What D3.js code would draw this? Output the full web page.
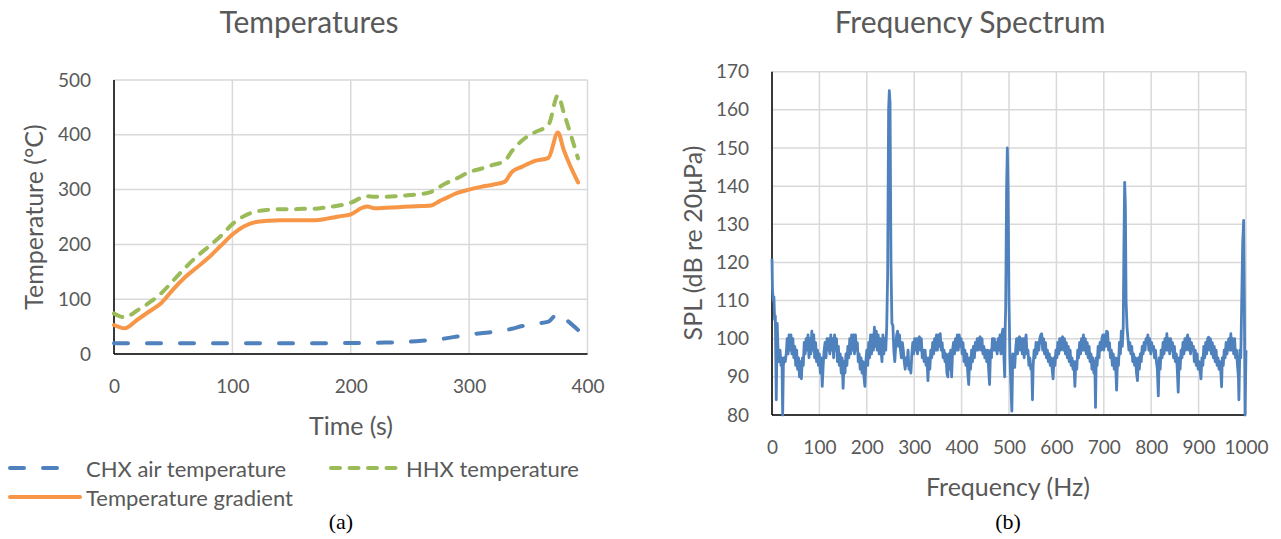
<!DOCTYPE html>
<html>
<head>
<meta charset="utf-8">
<script src="https://cdn.jsdelivr.net/npm/d3@7"></script>
<style>
  body { margin: 0; background: #fff; }
  svg { display: block; }
</style>
</head>
<body>
<div id="chart"></div>
<script>
// ---- left panel: temperatures during the run ----
const timeS = [0, 9, 20, 30, 40, 50, 60, 70, 80, 90, 100, 110, 120, 130, 140, 150, 160, 170, 180, 190, 200,
  210, 214, 220, 230, 240, 250, 260, 268, 275, 280, 290, 300, 310, 320, 330, 336, 345, 355, 367, 375, 380, 392];
const chxAir = [19.5, 19.5, 19.5, 19.5, 19.5, 19.5, 19.5, 19.5, 19.5, 19.5, 19.5, 19.5, 19.5, 19.5, 19.5, 19.5, 19.5, 19.5, 19.8, 20, 20,
  20.3, 20.5, 20.6, 21, 21.5, 22.5, 24, 25.5, 27, 28.5, 32, 35.5, 38, 40, 43, 46, 51, 55, 59, 74, 66, 44];
const hhxTemp = [74, 67, 80, 94, 111, 134, 157, 178, 196, 215, 237, 252, 260, 263, 264, 264, 265, 265, 268, 271, 276,
  286, 288, 287, 287, 288, 290, 292, 296, 305, 311, 321, 332, 338, 345, 352, 370, 390, 404, 418, 472, 440, 357];
const tempGradient = [53, 47, 63, 78, 93, 118, 140, 158, 176, 197, 218, 233, 241, 243, 244, 244, 244, 244, 247, 251, 255,
  267, 269, 266, 267, 268, 269, 270, 271, 279, 284, 294, 300, 305, 309, 314, 332, 342, 352, 358, 404, 372, 313];

const timeTicks = [0, 100, 200, 300, 400];
const tempTicks = [0, 100, 200, 300, 400, 500];

// ---- right panel: spectrum [Hz, dB re 20uPa] ----
const spectrum = [
  [0,121],[1,113],[2.5,110],[4,111],[5.5,105],[7,106],[9,84],[11,104],[13,96],[15,94],[17,97],[19,93],[21,95],[22.5,80],[24,93],[26,95],[28,94],[30,96],
  [32,100],[34,96],[36,101],[38,97],[40,101],[42,96],[44,100],[46,95],[48,98],[50,93],[52,97],[54,92],[56,95],[58,90],[60,94],[62,89.5],[64,95],[66,93],[68,99],[70,96],
  [72,100],[74,97],[76,101],[78,95],[80,100],[82,96],[84,102],[86,97],[88,101],[90,95],[92,99],[94,94],[96,97],[98,93],[100,96],[102,91],[104,95],[106,87.5],[108,93],[110,97],
  [112,99],[114,95],[116,100],[118,97],[120,100],[122,96],[124,101],[126,97],[128,100],[130,95],[132,101],[134,97],[136,100],[138,94],[140,98],[142,93],[144,96],[146,91],[148,95],[150,87],
  [152,94],[154,91],[156,96],[158,93],[160,98],[162,95],[164,100],[166,96],[168,101],[170,97],[172,101],[174,96],[176,101],[178,97],[180,99],[182,94],[184,96],[186,92],[188,95],[190,91],
  [192,94],[194,90],[196,87.5],[198,94],[200,97],[202,93],[204,99],[206,95],[208,101],[210,96],[212,101],[214,97],[216,103],[218,98],[220,102],[222,97],[224,101],[226,96],[228,100],[230,97],
  [232,94],[234,101],[236,96],[238,100],[240,97],[242,103],[244,117],[246,160],[247.5,165],[249,162],[251,120],[253,104],[255,103.5],[257,97],[259,94],[261,98],[263,101],[265,102],[267,98],[269,101],
  [271,97],[273,95],[275,99],[277,97],[279,94],[281,92],[283,95],[285,93],[287,97],[289,92],[291,93],[293,91],[295,96],[297,99],[299,96],[301,100],[303,97],[305,100],[307,96],[309,100],
  [311,100.5],[313,97],[315,100],[317,95],[319,97],[321,94],[323,97],[325,93],[327,95],[329,89],[331,95],[333,92],[335,97],[337,95],[339,99],[341,96],[343,100],[345,97],[347,101],[349,97],
  [351,101],[353,98],[355,101.3],[357,97],[359,99],[361,95],[363,97],[365,94],[367,96],[369,91],[371,90],[373,96],[375,92],[377,97],[379,90],[381,97],[383,99],[385,96],[387,100],[389,97],
  [391,101],[393,97],[395,101],[397,98],[399,100],[401,96],[403,99],[405,94],[407,97],[409,93],[411,96],[413,91],[415,88],[417,95],[419,92],[421,97],[423,94],[425,98],[427,95],[429,99],
  [431,97],[433,100],[435,97],[437,100],[439,100.5],[441,97],[443,100],[445,96],[447,98],[449,95],[451,97],[453,94],[455,97],[457,92],[459,88],[461,97],[463,95],[465,100],[467,97],[469,100],
  [471,97],[473,99],[475,96],[477,100],[479,97],[481,101],[483,96],[485,101],[487,102.5],[489,96],[491,90],[492,103],[493,108],[495,140],[496.5,150],[498,140],[500,110],[502,95],[504,88],[506,81],
  [508,96],[510,94],[512,92.5],[514,97],[516,100],[518,96],[520,100],[522,100.5],[524,97],[526,100],[528,96],[530,100],[532,95],[534,99],[536,101],[538,96],[540,97],[542,93],[544,95],[546,92],
  [548,93],[549.5,84],[551,93],[553,97],[555,95],[557,99],[559,96],[561,99],[563,97],[565,100],[567,101],[569,101.3],[571,97],[573,100],[575,96],[577,99],[579,95],[581,97],[583,94],[585,96],
  [587,93],[589,95],[591,92],[593,89.5],[595,95],[597,93],[599,97],[601,95],[603,99],[605,96],[607,100],[609,97],[611,100],[613,100.5],[615,97],[617,100],[619,96],[621,99],[623,95],[625,98],
  [627,94],[629,97],[631,93],[633,95],[635,92],[637,94],[639,87.5],[641,94],[643,92],[645,97],[647,95],[649,99],[651,96],[653,100],[655,97],[657,101],[659,97],[661,100],[663,96],[665,99],
  [667,95],[669,98],[671,94],[673,96],[675,92],[677,95],[679,91],[681,94],[682.5,82],[684,95],[686,93],[688,98],[690,95],[692,99],[694,97],[696,100],[698,101],[700,97],[702,101],[704,98],
  [706,102],[708,101.7],[710,97],[712,99],[714,95],[716,97],[718,93],[720,96],[722,92],[724,95],[726,90],[727,86.5],[729,95],[731,93],[733,99],[735,96],[737,102],[739,98],[741,103],[742.5,125],
  [744,141],[745.5,135],[747,110],[749,103],[751,100],[753,97],[755,99],[757,96],[759,98],[761,94],[763,96],[765,93],[767,95],[769,91],[771,89],[773,95],[775,92],[777,96],[779,94],[781,98],
  [783,96],[785,99],[787,97],[789,100],[791,99.5],[793,101],[795,97],[797,100],[799,96],[801,99],[803,97],[805,98],[807,95],[809,97],[811,94],[813,92],[815,85],[817,95],[819,92],[821,97],
  [823,95],[825,99],[827,96],[829,100],[831,97],[833,101.3],[835,97],[837,100],[839,96],[841,100],[843,97],[845,99],[847,95],[849,98],[851,94],[853,96],[855,92],[857,86],[859,95],[861,92],
  [863,97],[865,95],[867,99],[869,96],[871,100],[873,97],[875,100],[877,101],[879,97],[881,100],[883,96],[885,99],[887,97],[889,98],[891,94],[893,97],[895,93],[897,96],[899,92],[901,94],
  [903,92],[905,89.5],[907,95],[909,93],[911,98],[913,95],[915,99],[917,96],[919,100],[921,100.4],[923,97],[925,100],[927,96],[929,99],[931,95],[933,98],[935,94],[937,97],[939,93],[941,95],
  [943,92],[945,94],[947,91],[948.5,87.4],[950,95],[952,93],[954,97],[956,95],[958,99],[960,96],[962,99],[964,100],[966,97],[968,101.3],[970,97],[972,100],[974,96],[976,100],[978,95],[980,97],
  [982,93],[984,90],[985,84],[987,97],[989,95],[991,110],[993,125],[995,131],[996.5,110],[998,80],[1000,97]
];

const freqTicks = [0, 100, 200, 300, 400, 500, 600, 700, 800, 900, 1000];
const splTicks = [80, 90, 100, 110, 120, 130, 140, 150, 160, 170];

// ---- look ----
const W = 1281, H = 539;
const font = "Lato, 'Open Sans', sans-serif";
const serif = "'Liberation Serif', 'Times New Roman', serif";
const textColor = "#595959";
const gridColor = "#d9d9d9";
const blue = "#4f81bd", orange = "#f79646", green = "#9bbb59";

const svg = d3.select("#chart").append("svg").attr("width", W).attr("height", H);

// grid, tick labels and the two black axis lines of one panel
const drawFrame = (x, y, xTicks, yTicks) => {
  const [x0, x1] = x.range();
  const [y0, y1] = y.range();
  const g = svg.append("g");

  g.append("g").selectAll("line").data(yTicks).join("line")
    .attr("x1", x0).attr("x2", x1)
    .attr("y1", d => y(d)).attr("y2", d => y(d))
    .attr("stroke", gridColor).attr("stroke-width", 1.5);
  g.append("g").selectAll("line").data(xTicks).join("line")
    .attr("x1", d => x(d)).attr("x2", d => x(d))
    .attr("y1", y0).attr("y2", y1)
    .attr("stroke", gridColor).attr("stroke-width", 1.5);

  g.append("g")
    .attr("transform", `translate(${x0},0)`)
    .call(d3.axisLeft(y).tickValues(yTicks).tickSize(0).tickPadding(23).tickFormat(d3.format("d")))
    .call(a => a.select(".domain").remove())
    .selectAll("text")
    .attr("font-family", font).attr("font-size", 19).attr("fill", textColor);

  g.append("g")
    .attr("transform", `translate(0,${y0})`)
    .call(d3.axisBottom(x).tickValues(xTicks).tickSize(0).tickFormat(d3.format("d")))
    .call(a => a.select(".domain").remove())
    .selectAll("text")
    .attr("y", 32).attr("dy", "0.35em")
    .attr("font-family", font).attr("font-size", 19).attr("fill", textColor);

  g.append("line").attr("x1", x0).attr("x2", x0).attr("y1", y0).attr("y2", y1)
    .attr("stroke", "#000").attr("stroke-width", 1.5);
  g.append("line").attr("x1", x0).attr("x2", x1).attr("y1", y0).attr("y2", y0)
    .attr("stroke", "#000").attr("stroke-width", 1.5);
};

const addText = (txt, x, y, size, opts = {}) => {
  const t = svg.append("text")
    .attr("x", x).attr("y", y)
    .attr("text-anchor", "middle")
    .attr("dominant-baseline", "central")
    .attr("font-family", opts.family || font)
    .attr("font-size", size)
    .attr("fill", opts.color || textColor)
    .text(txt);
  if (opts.rotate) t.attr("transform", `rotate(-90,${x},${y})`);
  return t;
};

// ---- left panel ----
const xT = d3.scaleLinear().domain([0, 400]).range([114, 587.5]);
const yT = d3.scaleLinear().domain([0, 500]).range([354, 80]);
drawFrame(xT, yT, timeTicks, tempTicks);

const tempLine = vals => d3.line()
  .x((d, i) => xT(timeS[i]))
  .y(d => yT(d))
  .curve(d3.curveMonotoneX)(vals);

const tempSeries = [
  { name: "CHX air temperature", vals: chxAir, color: blue, dash: "14,19" },
  { name: "HHX temperature", vals: hhxTemp, color: green, dash: "9,9.5" },
  { name: "Temperature gradient", vals: tempGradient, color: orange, dash: null }
];

svg.append("g").selectAll("path").data(tempSeries).join("path")
  .attr("d", d => tempLine(d.vals))
  .attr("fill", "none")
  .attr("stroke", d => d.color)
  .attr("stroke-width", 4)
  .attr("stroke-linecap", "round")
  .attr("stroke-linejoin", "round")
  .attr("stroke-dasharray", d => d.dash);

addText("Temperatures", 309, 21, 30);
addText("Temperature (°C)", 33, 217, 25, { rotate: true });
addText("Time (s)", 351, 425, 25);

// legend, laid out like the excel one
const legendPos = [
  { x1: 10, x2: 62, tx: 86, y: 468 },
  { x1: 331, x2: 402, tx: 406, y: 468 },
  { x1: 10, x2: 80, tx: 86, y: 497 }
];
const legend = svg.append("g").selectAll("g").data(tempSeries).join("g");
legend.append("line")
  .attr("x1", (d, i) => legendPos[i].x1).attr("x2", (d, i) => legendPos[i].x2)
  .attr("y1", (d, i) => legendPos[i].y).attr("y2", (d, i) => legendPos[i].y)
  .attr("stroke", d => d.color).attr("stroke-width", 4)
  .attr("stroke-linecap", "round")
  .attr("stroke-dasharray", d => d.dash);
legend.append("text")
  .attr("x", (d, i) => legendPos[i].tx).attr("y", (d, i) => legendPos[i].y)
  .attr("dominant-baseline", "central")
  .attr("font-family", font).attr("font-size", 22).attr("fill", textColor)
  .text(d => d.name);

addText("(a)", 341, 521, 22, { family: serif, color: "#000" });

// ---- right panel ----
const xF = d3.scaleLinear().domain([0, 1000]).range([772, 1246]);
const yF = d3.scaleLinear().domain([80, 170]).range([415, 71.7]);
drawFrame(xF, yF, freqTicks, splTicks);

svg.append("path")
  .datum(spectrum)
  .attr("d", d3.line().x(d => xF(d[0])).y(d => yF(d[1])))
  .attr("fill", "none")
  .attr("stroke", blue)
  .attr("stroke-width", 2.8)
  .attr("stroke-linejoin", "round");

addText("Frequency Spectrum", 970, 21, 30);
addText("SPL (dB re 20μPa)", 692, 243, 25, { rotate: true });
addText("Frequency (Hz)", 1008, 486, 25);
addText("(b)", 1008, 521, 22, { family: serif, color: "#000" });
</script>
</body>
</html>
